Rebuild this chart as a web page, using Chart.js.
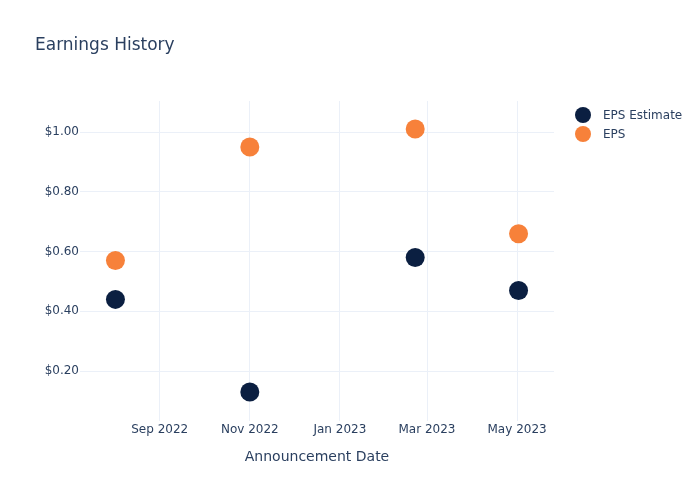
<!DOCTYPE html>
<html>
<head>
<meta charset="utf-8">
<script src="https://cdn.jsdelivr.net/npm/chart.js@4.4.0/dist/chart.umd.min.js"></script>
<style>
  body { margin: 0; background: #fff; }
  #wrap { width: 700px; height: 500px; position: relative; }
</style>
</head>
<body>
<div id="wrap"><canvas id="myChart" width="700" height="500"></canvas></div>
<script>
'use strict';

// announcement dates (UTC) and values
let announceDates = [Date.UTC(2022, 7, 2), Date.UTC(2022, 10, 1), Date.UTC(2023, 1, 21), Date.UTC(2023, 4, 2)];
let epsEstimate = [0.44, 0.13, 0.58, 0.47];
let epsActual = [0.57, 0.95, 1.01, 0.66];

let xTickDates = [Date.UTC(2022, 8, 1), Date.UTC(2022, 10, 1), Date.UTC(2023, 0, 1), Date.UTC(2023, 2, 1), Date.UTC(2023, 4, 1)];
let xTickLabels = ['Sep 2022', 'Nov 2022', 'Jan 2023', 'Mar 2023', 'May 2023'];
let yTickValues = [0.2, 0.4, 0.6, 0.8, 1.0];

let seriesNames = ['EPS Estimate', 'EPS'];
let seriesColors = ['#0b1f41', '#f7813a'];

const FONT = '"DejaVu Sans", Verdana, sans-serif';
const TEXT = '#2a3f5f';
const GRID = '#ebf0f8';

function toPoints(values) {
    let pts = [];
    for (let i = 0; i < values.length; i++) {
        pts.push({ x: announceDates[i], y: values[i] });
    }
    return pts;
}

// title + legend drawn by hand, plotly style
const decorPlugin = {
    id: 'decor',
    afterDraw(chart) {
        let ctx = chart.ctx;
        ctx.save();
        ctx.fillStyle = TEXT;
        ctx.font = '17px ' + FONT;
        ctx.textBaseline = 'middle';
        ctx.textAlign = 'left';
        ctx.fillText('Earnings History', 35, 46);

        ctx.font = '12px ' + FONT;
        for (let i = 0; i < seriesNames.length; i++) {
            let y = 115 + i * 19;
            ctx.beginPath();
            ctx.arc(583, y, 8, 0, Math.PI * 2);
            ctx.fillStyle = seriesColors[i];
            ctx.fill();
            ctx.fillStyle = TEXT;
            ctx.fillText(seriesNames[i], 603, y + 1);
        }

        ctx.textAlign = 'center';
        ctx.font = '14px ' + FONT;
        let area = chart.chartArea;
        ctx.fillText('Announcement Date', (area.left + area.right) / 2, 457);
        ctx.restore();
    }
};

let ctx = document.getElementById('myChart').getContext('2d');
let myChart = new Chart(ctx, {
    type: 'scatter',
    data: {
        datasets: [{
            label: seriesNames[0],
            data: toPoints(epsEstimate),
            backgroundColor: seriesColors[0],
            borderColor: seriesColors[0],
            pointRadius: 9.5,
            pointHoverRadius: 9.5,
            borderWidth: 0
        }, {
            label: seriesNames[1],
            data: toPoints(epsActual),
            backgroundColor: seriesColors[1],
            borderColor: seriesColors[1],
            pointRadius: 9.5,
            pointHoverRadius: 9.5,
            borderWidth: 0
        }]
    },
    options: {
        responsive: false,
        animation: false,
        events: [],
        layout: { padding: { top: 101, right: 146, left: 0, bottom: 0 } },
        plugins: {
            legend: { display: false },
            title: { display: false },
            tooltip: { enabled: false }
        },
        scales: {
            x: {
                type: 'linear',
                min: Date.UTC(2022, 6, 9),
                max: Date.UTC(2023, 4, 26),
                border: { display: false },
                grid: { color: GRID, lineWidth: 1, drawTicks: false },
                afterBuildTicks: function (scale) {
                    scale.ticks = xTickDates.map(function (v) { return { value: v }; });
                },
                afterFit: function (scale) { scale.height = 79; },
                ticks: {
                    padding: 2,
                    maxRotation: 0,
                    autoSkip: false,
                    color: TEXT,
                    font: { family: FONT, size: 12 },
                    callback: function (value) {
                        let i = xTickDates.indexOf(value);
                        return i >= 0 ? xTickLabels[i] : '';
                    }
                }
            },
            y: {
                type: 'linear',
                min: 0.033,
                max: 1.104,
                border: { display: false },
                grid: { color: GRID, lineWidth: 1, drawTicks: false },
                afterBuildTicks: function (scale) {
                    scale.ticks = yTickValues.map(function (v) { return { value: v }; });
                },
                afterFit: function (scale) { scale.width = 80; },
                ticks: {
                    padding: 1,
                    color: TEXT,
                    font: { family: FONT, size: 12 },
                    callback: function (value) { return '$' + value.toFixed(2); }
                }
            }
        }
    },
    plugins: [decorPlugin]
});
</script>
</body>
</html>
